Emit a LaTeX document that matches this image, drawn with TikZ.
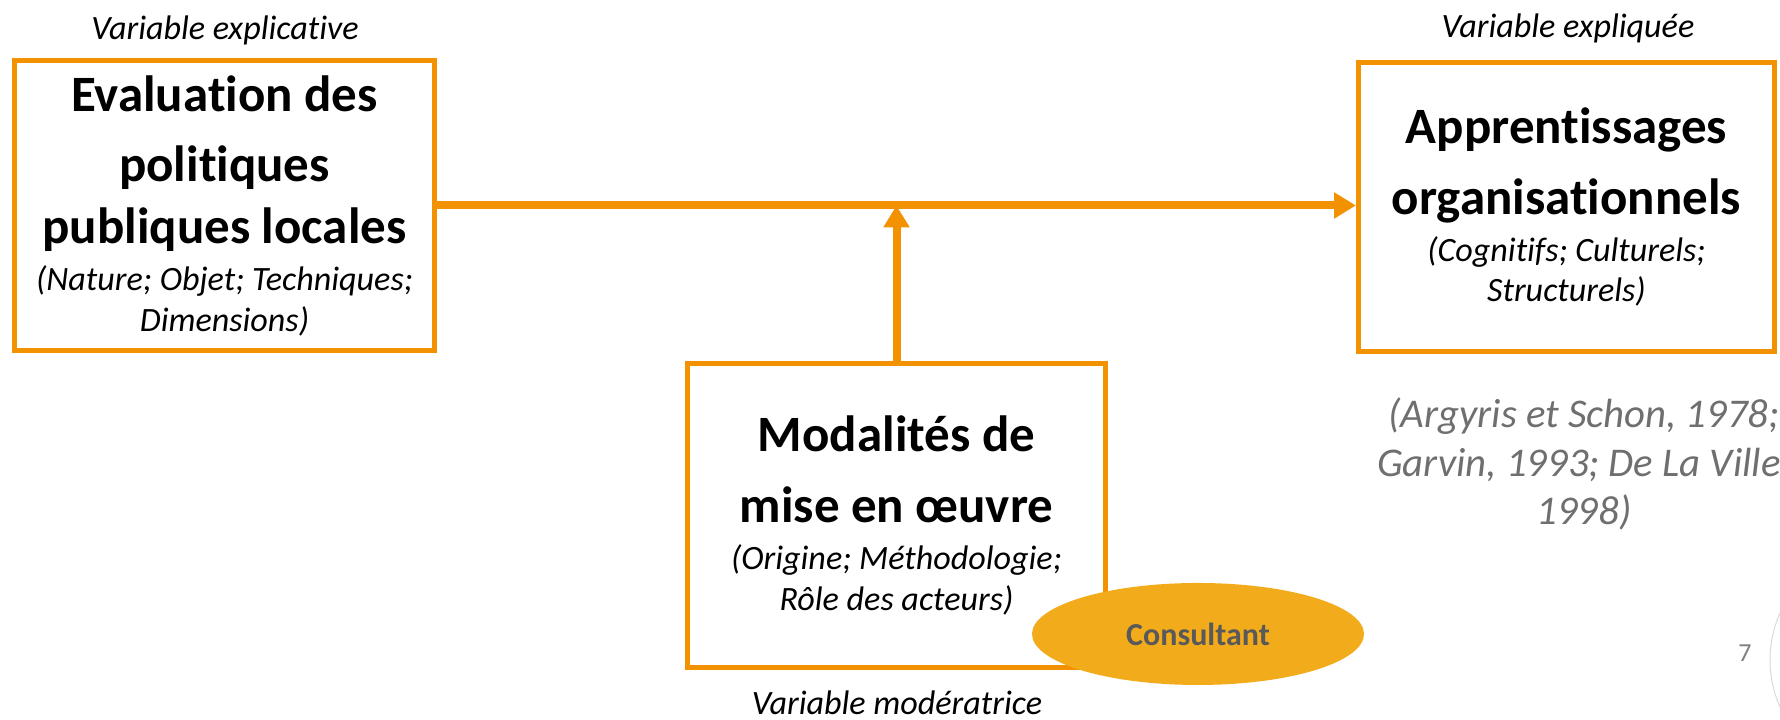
\documentclass[tikz,border=0pt]{standalone}
\usepackage{fontspec}
\setmainfont{Carlito}[RawFeature={-liga;-clig;-dlig;-calt;-rlig}]
\usetikzlibrary{arrows.meta,shapes.geometric}

\definecolor{boxorange}{HTML}{F39200}
\definecolor{consyellow}{HTML}{F2AC1B}
\definecolor{citegray}{HTML}{6F6F6F}
\definecolor{consgray}{HTML}{595959}
\definecolor{pagegray}{HTML}{7F7F7F}

\newcommand{\boxtitle}{\fontsize{14.5}{17.4}\selectfont\bfseries}
\newcommand{\boxnote}{\fontsize{9.7}{11.6}\selectfont\itshape}
\newcommand{\citenote}{\fontsize{11.6}{13.9}\selectfont\itshape}

\begin{document}
\frenchspacing
\begin{tikzpicture}[
    varbox/.style={draw=boxorange, line width=0.05cm, fill=white, inner sep=0pt,
                   text width=4.1cm, align=flush center},
    varlabel/.style={anchor=base, font=\boxnote},
    link/.style={draw=boxorange, line width=0.08cm,
                 -{Triangle[length=0.22cm,width=0.25cm]}}
  ]
                        \useasboundingbox (0,0) rectangle (17.8,7.2);

                        % Box of the explanatory variable
                        \draw (2.245,5.145) node [varbox, minimum width=4.20cm, minimum height=2.90cm] (eval)
                          {\vspace*{2.8pt}{\boxtitle Evaluation des\\politiques\\publiques locales\par}\vspace{1.8pt}%
                           {\boxnote (Nature; Objet; Techniques;\\Dimensions)\par}};%
                        \draw (2.25,6.80) node [varlabel] (evallab) {Variable explicative};%

                        % Box of the explained variable
                        \draw (15.665,5.13) node [varbox, minimum width=4.16cm, minimum height=2.89cm] (appr)
                          {\vspace*{2.8pt}{\boxtitle Apprentissages\\organisationnels\par}\vspace{1.8pt}%
                           {\boxnote (Cognitifs; Culturels;\\Structurels)\par}};%
                        \draw (15.68,6.82) node [varlabel] (apprlab) {Variable expliquée};%

                        % Box of the moderating variable
                        \draw (8.965,2.045) node [varbox, minimum width=4.18cm, minimum height=3.04cm] (moda)
                          {\vspace*{2.8pt}{\boxtitle Modalités de\\mise en œuvre\par}\vspace{1.8pt}%
                           {\boxnote (Origine; Méthodologie;\\Rôle des acteurs)\par}};%
                        \draw (8.97,0.05) node [varlabel] (modalab) {Variable modératrice};%

                        % Drawing line eval appr
                        \draw [link] (eval.east) -- (eval.east -| appr.west);%

                        % Drawing line moda eval-appr
                        \draw [link] (moda.north) -- (moda.north |- eval.east);%

                        % Marking ellipse Consultant
                        \draw (11.98,0.86) node [ellipse, fill=consyellow, minimum width=3.32cm, minimum height=1.02cm,
                          inner sep=0pt, text=consgray, font=\fontsize{9.1}{10}\selectfont\bfseries] (cons) {Consultant};%

                        % References
                        \draw (15.84,2.56) node [align=center, text=citegray, font=\citenote] (cite)
                          {(Argyris et Schon, 1978;\\Garvin, 1993; De La Ville,\\1998)};%

                        % Page number
                        \draw (17.45,0.67) node [text=pagegray, font=\fontsize{7.4}{9}\selectfont] (pagenum) {7};%
                        \draw [draw=black!15, line width=0.01cm] (18.85,0.60) circle (1.15);%
\end{tikzpicture}
\end{document}
